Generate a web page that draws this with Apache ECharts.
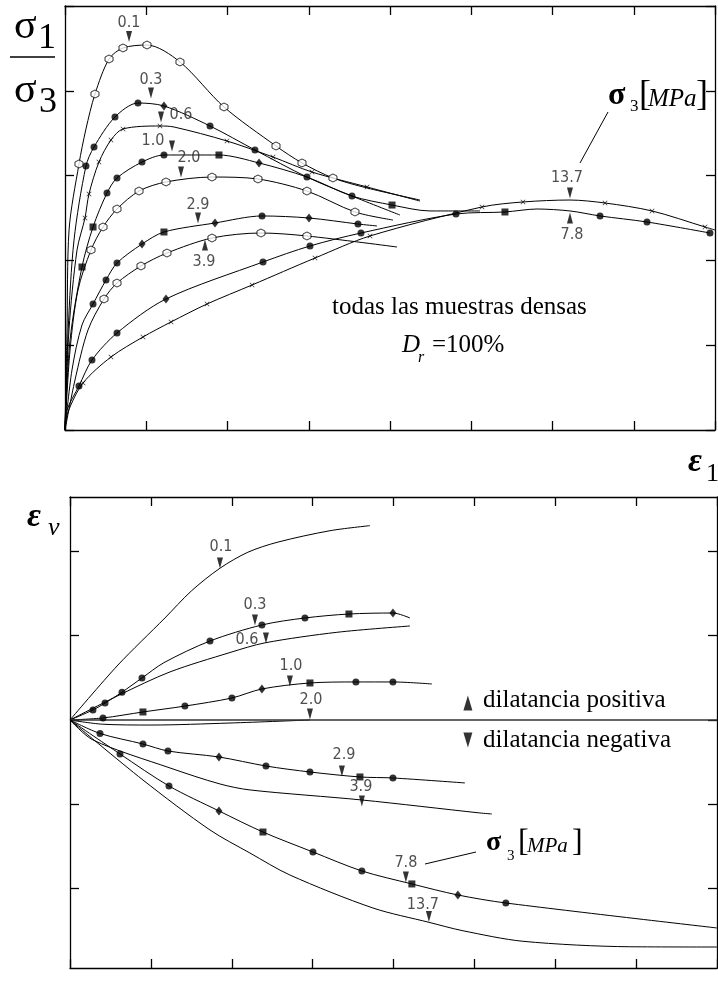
<!DOCTYPE html>
<html><head><meta charset="utf-8">
<script src="https://cdn.jsdelivr.net/npm/echarts@6/dist/echarts.min.js"></script>
<style>html,body{margin:0;padding:0;background:#fff}#c{width:718px;height:983px}</style>
</head><body><div id="c"></div>
<script>
// ===== TOP PANEL: sigma1/sigma3 vs eps1 (x: axial strain in tick units, y: stress ratio in tick units)
const top01 = [[0,0],[0.025,1.18],[0.05,2.36],[0.172,3.137],[0.258,3.55],[0.369,3.962],[0.542,4.375],[0.714,4.505],[1.009,4.54],[1.415,4.34],[1.957,3.809],[2.597,3.349],[2.917,3.149],[3.298,2.972],[3.717,2.854],[4.369,2.712]];
const top01Open = [[0.172,3.137],[0.369,3.962],[0.542,4.375],[0.714,4.505],[1.009,4.54],[1.415,4.34],[1.957,3.809],[2.597,3.349],[2.917,3.149],[3.298,2.972]];
const top03 = [[0,0],[0.04,1.2],[0.111,2.24],[0.258,3.113],[0.357,3.337],[0.615,3.691],[0.898,3.856],[1.218,3.821],[1.785,3.585],[2.338,3.302],[2.978,2.983],[3.532,2.759],[4.123,2.535]];
const top03Dot = [[0.258,3.113],[0.357,3.337],[0.615,3.691],[0.898,3.856],[1.785,3.585],[2.338,3.302],[3.532,2.759]];
const top03Dia = [[1.218,3.821]];
const top06 = [[0,0],[0.049,1.179],[0.148,2.123],[0.246,2.5],[0.295,2.783],[0.418,3.16],[0.566,3.42],[0.714,3.55],[1.169,3.585],[1.342,3.573],[1.994,3.408],[2.56,3.219],[3.04,3.042],[3.717,2.866],[4.369,2.7]];
const top06X = [[0.246,2.5],[0.295,2.783],[0.418,3.16],[0.566,3.42],[0.714,3.55],[1.169,3.585],[1.994,3.408],[2.56,3.219],[3.04,3.042],[3.717,2.866]];
const top10 = [[0,0],[0.062,1.061],[0.209,1.922],[0.345,2.394],[0.517,2.795],[0.64,2.972],[0.948,3.16],[1.218,3.243],[1.895,3.243],[2.388,3.149],[2.978,2.983],[3.532,2.759],[4.025,2.653],[4.492,2.583],[5.108,2.583]];
const top10Dot = [[0.517,2.795],[0.64,2.972],[0.948,3.16],[1.218,3.243],[2.978,2.983]];
const top10Sq = [[0.209,1.922],[0.345,2.394],[1.895,3.243],[4.025,2.653]];
const top10Dia = [[2.388,3.149]];
const top20 = [[0,0],[0.062,0.943],[0.16,1.651],[0.32,2.123],[0.468,2.394],[0.64,2.606],[0.911,2.818],[1.243,2.925],[1.809,2.983],[2.375,2.96],[2.978,2.818],[3.569,2.571],[4.037,2.476]];
const top20Open = [[0.32,2.123],[0.468,2.394],[0.64,2.606],[0.911,2.818],[1.243,2.925],[1.809,2.983],[2.375,2.96],[2.978,2.818],[3.569,2.571]];
const top29 = [[0,0],[0.086,0.708],[0.209,1.238],[0.345,1.486],[0.505,1.769],[0.64,1.969],[0.948,2.193],[1.218,2.335],[1.846,2.441],[2.425,2.524],[3.003,2.5],[3.606,2.429],[3.84,2.406]];
const top29Dot = [[0.345,1.486],[0.505,1.769],[0.64,1.969],[2.425,2.524],[3.606,2.429]];
const top29Sq = [[1.218,2.335]];
const top29Dia = [[0.948,2.193],[1.846,2.441],[3.003,2.5]];
const top39 = [[0,0],[0.123,0.59],[0.283,1.179],[0.48,1.545],[0.64,1.733],[0.935,1.934],[1.255,2.087],[1.809,2.264],[2.412,2.323],[2.978,2.288],[4.086,2.158]];
const top39Open = [[0.48,1.545],[0.64,1.733],[0.935,1.934],[1.255,2.087],[1.809,2.264],[2.412,2.323],[2.978,2.288]];
const top78 = [[0,0],[0.025,0.236],[0.172,0.519],[0.332,0.825],[0.64,1.144],[1.243,1.545],[2.437,1.981],[3.015,2.17],[3.643,2.323],[4.812,2.547],[5.415,2.571],[5.809,2.606],[6.215,2.583],[6.585,2.524],[7.163,2.453],[7.938,2.323]];
const top78Dot = [[0.172,0.519],[0.332,0.825],[0.64,1.144],[2.437,1.981],[3.015,2.17],[3.643,2.323],[4.812,2.547],[6.585,2.524],[7.163,2.453],[7.938,2.323]];
const top78Sq = [[5.415,2.571]];
const top78Dia = [[1.243,1.545]];
const top137 = [[0,0],[0.037,0.212],[0.222,0.554],[0.566,0.861],[0.96,1.097],[1.305,1.274],[1.748,1.486],[2.302,1.71],[3.077,2.028],[3.754,2.288],[5.132,2.63],[5.637,2.689],[6.215,2.712],[6.646,2.677],[7.225,2.583],[7.877,2.394],[8,2.358]];
const top137X = [[0.222,0.554],[0.566,0.861],[0.96,1.097],[1.305,1.274],[1.748,1.486],[2.302,1.71],[3.077,2.028],[3.754,2.288],[5.132,2.63],[5.637,2.689],[6.646,2.677],[7.225,2.583],[7.877,2.394]];
// sigma3 labels [text, x, y]
const topLabels = [['0.1',0.788,4.805],['0.3',1.058,4.127],['0.6',1.428,3.715],['1.0',1.083,3.408],['2.0',1.526,3.208],['2.9',1.637,2.653],['3.9',1.711,1.981],['13.7',6.178,2.972],['7.8',6.24,2.3]];
const topArrowDown = [[0.788,4.64],[1.058,3.974],[1.182,3.691],[1.317,3.349],[1.428,3.042],[1.637,2.5],[6.215,2.795]];
const topArrowUp = [[1.723,2.182],[6.215,2.5]];

// ===== BOTTOM PANEL: volumetric strain vs eps1
const bot01 = [[0,0],[0.593,0.652],[1.174,1.21],[1.5,1.53],[1.854,1.8],[2.2,1.99],[2.571,2.11],[3.214,2.245],[3.708,2.305]];
const bot03 = [[0,0],[0.284,0.119],[0.433,0.2],[0.643,0.33],[0.89,0.498],[1.162,0.68],[1.731,0.937],[2.373,1.127],[2.905,1.21],[3.449,1.257],[3.993,1.269],[4.203,1.21]];
const bot03Dot = [[0.284,0.119],[0.433,0.2],[0.643,0.33],[0.89,0.498],[1.731,0.937],[2.373,1.127],[2.905,1.21]];
const bot03Sq = [[3.449,1.257]];
const bot03Dia = [[3.993,1.269]];
const bot06 = [[0,0],[0.618,0.3],[1.236,0.57],[1.978,0.8],[2.41,0.915],[3.3,1.04],[4.203,1.115]];
const bot10 = [[0,0],[0.408,0.024],[0.902,0.095],[1.421,0.165],[2.002,0.261],[2.373,0.368],[2.967,0.439],[3.535,0.451],[3.993,0.451],[4.475,0.427]];
const bot10Dot = [[0.408,0.024],[1.421,0.165],[2.002,0.261],[3.535,0.451],[3.993,0.451]];
const bot10Sq = [[0.902,0.095],[2.967,0.439]];
const bot10Dia = [[2.373,0.368]];
const bot20 = [[0,0],[0.4,-0.05],[1.0,-0.06],[1.978,-0.036],[2.967,0]];
const botZero = [[0,0],[8,0]];
const bot29 = [[0,0],[0.371,-0.16],[0.902,-0.285],[1.211,-0.368],[1.842,-0.439],[2.423,-0.546],[2.967,-0.617],[3.585,-0.676],[3.993,-0.688],[4.883,-0.747]];
const bot29Dot = [[0.371,-0.16],[0.902,-0.285],[1.211,-0.368],[2.423,-0.546],[2.967,-0.617],[3.993,-0.688]];
const bot29Sq = [[3.585,-0.676]];
const bot29Dia = [[1.842,-0.439]];
const bot39 = [[0,0],[0.284,-0.237],[1.236,-0.569],[1.854,-0.759],[2.225,-0.83],[3.609,-0.949],[5.068,-1.103],[5.216,-1.115]];
const bot78 = [[0,0],[0.618,-0.403],[1.224,-0.783],[1.842,-1.079],[2.386,-1.329],[3.004,-1.566],[3.609,-1.791],[4.227,-1.945],[4.796,-2.076],[5.389,-2.171],[7.998,-2.467]];
const bot78Dot = [[0.618,-0.403],[1.224,-0.783],[3.004,-1.566],[3.609,-1.791],[5.389,-2.171]];
const bot78Sq = [[2.386,-1.329],[4.227,-1.945]];
const bot78Dia = [[1.842,-1.079],[4.796,-2.076]];
const bot137 = [[0,0],[0.902,-0.712],[1.731,-1.305],[2.225,-1.578],[2.719,-1.839],[3.745,-2.23],[4.438,-2.4],[4.858,-2.5],[5.6,-2.625],[6.922,-2.69],[7.998,-2.693]];
const botLabels = [['0.1',1.867,2.052],['0.3',2.287,1.364],['0.6',2.188,0.949],['1.0',2.732,0.641],['2.0',2.979,0.237],['2.9',3.387,-0.415],['3.9',3.597,-0.795],['7.8',4.153,-1.696],['13.7',4.363,-2.195]];
const botArrowDown = [[1.854,1.862],[2.287,1.186],[2.423,0.973],[2.719,0.463],[2.967,0.071],[3.362,-0.605],[3.609,-0.961],[4.153,-1.862],[4.438,-2.33]];
const legendUp = [[4.92,0.202]];
const legendDown = [[4.92,-0.237]];

// ===== rendering
const HEX = 'path://M5,0L9.33,2.5L9.33,7.5L5,10L0.67,7.5L0.67,2.5Z';
const CROSS = 'path://M0,1L1,0L5,4L9,0L10,1L6,5L10,9L9,10L5,6L1,10L0,9L4,5Z';

function line(data, g, w, col) {
  return {type:'line', xAxisIndex:g*2, yAxisIndex:g*2, data, smooth:0.3,
    showSymbol:false, symbol:'none', silent:true, animation:false,
    lineStyle:{color:col||'#000', width:w||1}, z:2};
}
function mk(data, g, kind) {
  const s = {type:'scatter', xAxisIndex:g*2, yAxisIndex:g*2, data, silent:true, animation:false, z:4};
  if (kind==='open') { s.symbol=HEX; s.symbolSize=8; s.itemStyle={color:'#fff',borderColor:'#000',borderWidth:1}; }
  else if (kind==='dot') { s.symbol='circle'; s.symbolSize=7; s.itemStyle={color:'#000'}; }
  else if (kind==='sq') { s.symbol='rect'; s.symbolSize=7; s.itemStyle={color:'#000'}; }
  else if (kind==='dia') { s.symbol='diamond'; s.symbolSize=[7,9]; s.itemStyle={color:'#000'}; }
  else if (kind==='x') { s.symbol=CROSS; s.symbolSize=5; s.itemStyle={color:'#000'}; }
  return s;
}
function arrows(data, g, up, size) {
  return {type:'scatter', xAxisIndex:g*2, yAxisIndex:g*2, data, silent:true, animation:false, z:5,
    symbol:'triangle', symbolSize:size||[6,11], symbolRotate: up?0:180, itemStyle:{color:'#000'}};
}
function labels(data, g) {
  return {type:'scatter', xAxisIndex:g*2, yAxisIndex:g*2, silent:true, animation:false, z:6,
    data: data.map(d=>({value:[d[1],d[2]], name:d[0]})), symbolSize:1, itemStyle:{color:'rgba(0,0,0,0)'},
    label:{show:true, position:'inside', formatter:'{b}', fontFamily:'DejaVu Sans Condensed', fontSize:16, color:'#222'}};
}
function axis(gridIndex, pos, min, max, interval, custom) {
  const a = {type:'value', gridIndex, position:pos, min, max, interval,
    axisLine:{show:true, onZero:false, lineStyle:{color:'#000', width:1.3}},
    axisTick:{show:true, inside:true, length:9, lineStyle:{color:'#000', width:1.3}},
    axisLabel:{show:false}, splitLine:{show:false}};
  if (custom) a.axisTick.customValues = custom;
  return a;
}

const chart = echarts.init(document.getElementById('c'), null, {renderer:'canvas'});
const T = (text, x, y, font) => ({type:'text', x, y, silent:true, style:{text, font, fill:'#000', textVerticalAlign:'middle'}});
chart.setOption({
  animation:false,
  backgroundColor:'#fff',
  grid:[{left:65, top:6, width:650, height:424}, {left:70, top:497, width:647, height:471}],
  xAxis:[axis(0,'bottom',0,8,1), axis(0,'top',0,8,1), axis(1,'bottom',0,8,1), axis(1,'top',0,8,1)],
  yAxis:[axis(0,'left',0,5,1), axis(0,'right',0,5,1),
         axis(1,'left',-2.942,2.645,1,[-2,-1,0,1,2]), axis(1,'right',-2.942,2.645,1,[-2,-1,0,1,2])],
  series:[
    line(top01,0), mk(top01Open,0,'open'),
    line(top03,0), mk(top03Dot,0,'dot'), mk(top03Dia,0,'dia'),
    line(top06,0), mk(top06X,0,'x'),
    line(top10,0), mk(top10Dot,0,'dot'), mk(top10Sq,0,'sq'), mk(top10Dia,0,'dia'),
    line(top20,0), mk(top20Open,0,'open'),
    line(top29,0), mk(top29Dot,0,'dot'), mk(top29Sq,0,'sq'), mk(top29Dia,0,'dia'),
    line(top39,0), mk(top39Open,0,'open'),
    line(top78,0), mk(top78Dot,0,'dot'), mk(top78Sq,0,'sq'), mk(top78Dia,0,'dia'),
    line(top137,0), mk(top137X,0,'x'),
    arrows(topArrowDown,0,false), arrows(topArrowUp,0,true), labels(topLabels,0),
    line(bot01,1), line(bot03,1), mk(bot03Dot,1,'dot'), mk(bot03Sq,1,'sq'), mk(bot03Dia,1,'dia'),
    line(bot06,1),
    line(bot10,1), mk(bot10Dot,1,'dot'), mk(bot10Sq,1,'sq'), mk(bot10Dia,1,'dia'),
    line(bot20,1), line(botZero,1,1.5,'#333'),
    line(bot29,1), mk(bot29Dot,1,'dot'), mk(bot29Sq,1,'sq'), mk(bot29Dia,1,'dia'),
    line(bot39,1),
    line(bot78,1), mk(bot78Dot,1,'dot'), mk(bot78Sq,1,'sq'), mk(bot78Dia,1,'dia'),
    line(bot137,1),
    arrows(botArrowDown,1,false), labels(botLabels,1),
    arrows(legendUp,1,true,[9,15]), arrows(legendDown,1,false,[9,15])
  ],
  graphic:[
    T('σ',14,27,'42px "Liberation Serif"'), T('1',38,39,'36px "Liberation Serif"'),
    {type:'line', silent:true, shape:{x1:10,y1:57,x2:55,y2:57}, style:{stroke:'#000', lineWidth:1.5}},
    T('σ',14,91,'42px "Liberation Serif"'), T('3',39,103,'36px "Liberation Serif"'),
    T('ε',688,462,'bold italic 34px "Liberation Serif"'), T('1',706,474,'26px "Liberation Serif"'),
    T('ε',27,517,'bold italic 34px "Liberation Serif"'), T('v',48,528,'italic 26px "Liberation Serif"'),
    T('todas las muestras densas',332,307,'25px "Liberation Serif"'),
    T('D',402,345,'italic 25px "Liberation Serif"'), T('r',418,358,'italic 16px "Liberation Serif"'),
    T('=100%',432,345,'25px "Liberation Serif"'),
    T('σ',608,96,'bold 32px "Liberation Serif"'), T('3',630,107,'17px "Liberation Serif"'),
    T('[',639,96,'36px "Liberation Serif"'), T('MPa',648,99,'italic 25px "Liberation Serif"'), T(']',696,96,'36px "Liberation Serif"'),
    {type:'line', silent:true, shape:{x1:608,y1:112,x2:580,y2:163}, style:{stroke:'#000', lineWidth:1}},
    T('dilatancia positiva',483,700,'25px "Liberation Serif"'),
    T('dilatancia negativa',483,740,'25px "Liberation Serif"'),
    T('σ',486,843,'bold 28px "Liberation Serif"'), T('3',507,856,'15px "Liberation Serif"'),
    T('[',518,843,'32px "Liberation Serif"'), T('MPa',527,846,'italic 21px "Liberation Serif"'), T(']',572,843,'32px "Liberation Serif"'),
    {type:'line', silent:true, shape:{x1:425,y1:864,x2:476,y2:852}, style:{stroke:'#000', lineWidth:1}}
  ]
});
</script></body></html>
